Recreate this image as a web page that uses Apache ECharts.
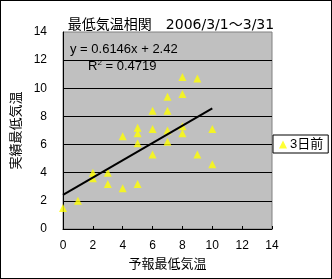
<!DOCTYPE html>
<html>
<head>
<meta charset="utf-8">
<script src="https://cdn.jsdelivr.net/npm/echarts@6/dist/echarts.min.js"></script>
<style>
  html, body { margin: 0; padding: 0; background: #fff; }
  #wrap { position: relative; width: 332px; height: 279px; box-sizing: border-box; border: 1px solid #000; }
  #chart { position: absolute; left: -1px; top: -1px; width: 332px; height: 279px; }
</style>
</head>
<body>
<div id="wrap"><div id="chart"></div></div>
<script>
// 予報最低気温 (x) と 実績最低気温 (y)
var yohou = [0, 1, 2, 2, 3, 3, 4, 4, 5, 5, 5, 5, 6, 6, 6, 7, 7, 7, 7, 8, 8, 8, 8, 9, 9, 10, 10];
var jisseki = [1.5, 2.0, 4.0, 3.6, 4.0, 3.2, 2.9, 6.6, 3.2, 7.2, 6.8, 6.1, 8.4, 7.1, 5.3, 9.4, 8.4, 7.0, 6.2, 10.8, 9.6, 7.3, 6.8, 10.7, 5.3, 7.1, 4.6];

// 近似直線 y = 0.6146x + 2.42
var katamuki = 0.6146;
var seppen = 2.42;
var r2 = '0.4719';

var eixoTicks = [0, 2, 4, 6, 8, 10, 12, 14];

var fonte = "'Liberation Sans', 'Noto Sans CJK JP', sans-serif";
var fonteTitulo = "'DejaVu Sans', 'Noto Sans CJK JP', sans-serif";

var pontos = yohou.map(function (x, i) { return [x, jisseki[i]]; });
var xMin = Math.min.apply(null, yohou);
var xMax = Math.max.apply(null, yohou);
var linha = [[xMin, katamuki * xMin + seppen], [xMax, katamuki * xMax + seppen]];

var grafico = echarts.init(document.getElementById('chart'));

var option = {
    animation: false,
    textStyle: { fontFamily: fonte },
    title: {
        text: '最低気温相関　2006/3/1～3/31',
        left: 166, top: 13, textAlign: 'center',
        textStyle: { fontSize: 14, fontWeight: 'normal', color: '#000', fontFamily: fonteTitulo }
    },
    grid: {
        left: 63, right: 60, top: 32, bottom: 50,
        show: true, backgroundColor: '#C0C0C0', borderColor: '#808080', borderWidth: 1
    },
    legend: {
        data: ['3日前'],
        left: 273, top: 135,
        orient: 'vertical',
        backgroundColor: '#fff', borderColor: '#000', borderWidth: 1,
        padding: [3, 5, 2, 6],
        itemWidth: 8, itemHeight: 8, itemGap: 0,
        textStyle: { fontSize: 13, color: '#000', fontFamily: fonte, padding: [0, 0, 0, -2] }
    },
    xAxis: {
        type: 'value', min: 0, max: 14, interval: 2,
        name: '予報最低気温', nameLocation: 'middle', nameGap: 29,
        nameTextStyle: { fontSize: 13, color: '#000', fontFamily: fonte },
        axisLine: { lineStyle: { color: '#000', width: 1 } },
        axisTick: { inside: true, length: 3, lineStyle: { color: '#000' } },
        axisLabel: { fontSize: 12, color: '#000', margin: 11,
            formatter: function (v) { return eixoTicks.indexOf(v) >= 0 ? String(v) : ''; } },
        splitLine: { show: false }
    },
    yAxis: {
        type: 'value', min: 0, max: 14, interval: 2,
        name: '実績最低気温', nameLocation: 'middle', nameGap: 32, nameRotate: 90,
        nameTextStyle: { fontSize: 13, color: '#000', fontFamily: fonte },
        axisLine: { show: true, lineStyle: { color: '#000', width: 1 } },
        axisTick: { show: false },
        axisLabel: { fontSize: 12, color: '#000', margin: 16 },
        splitLine: { show: true, showMaxLine: false, lineStyle: { color: '#000', width: 1 } }
    },
    graphic: [
        { type: 'text', left: 70, top: 43, style: { text: 'y = 0.6146x + 2.42', fontSize: 13, fill: '#000', fontFamily: fonte } },
        { type: 'text', left: 88, top: 59, style: {
            text: '{a|R}{s|2}{a| = ' + r2 + '}',
            fill: '#000', fontFamily: fonte,
            rich: {
                a: { fontSize: 13, fontFamily: fonte, verticalAlign: 'bottom' },
                s: { fontSize: 8, fontFamily: fonte, verticalAlign: 'top', padding: [0, 0, 6, 0] }
            }
        } }
    ],
    series: [
        {
            name: '3日前', type: 'scatter', data: pontos,
            symbol: 'triangle', symbolSize: [8, 8],
            itemStyle: { color: '#FFFF00' }, z: 3
        },
        {
            name: 'trend', type: 'line', data: linha,
            symbol: 'none', lineStyle: { color: '#000', width: 2 }, z: 4, silent: true
        }
    ]
};

grafico.setOption(option);
</script>
</body>
</html>
